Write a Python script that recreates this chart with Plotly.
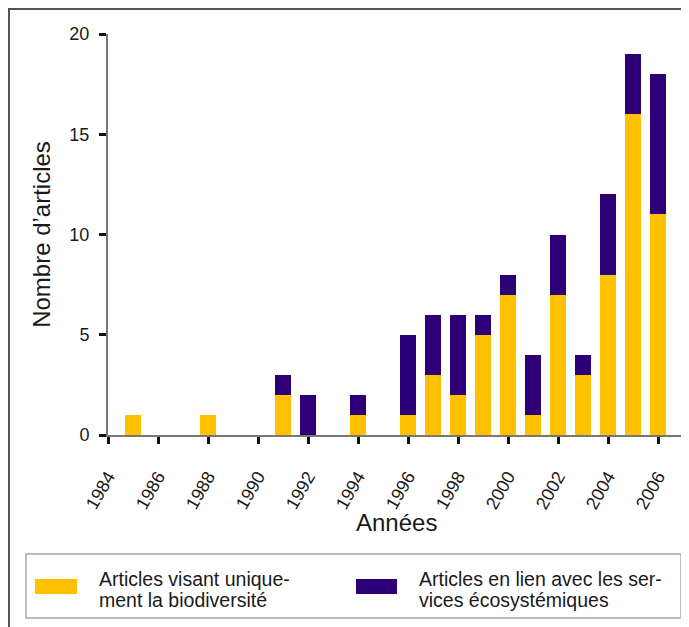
import plotly.graph_objects as go

years = [1985, 1988, 1991, 1992, 1994, 1996, 1997, 1998, 1999, 2000, 2001, 2002, 2003, 2004, 2005, 2006]
biodiv = [1, 1, 2, 0, 1, 1, 3, 2, 5, 7, 1, 7, 3, 8, 16, 11]
services = [0, 0, 1, 2, 1, 4, 3, 4, 1, 1, 3, 3, 1, 4, 3, 7]
tick_years = list(range(1984, 2007, 2))
series_lines = [["Articles visant unique-", "ment la biodiversité"],
                ["Articles en lien avec les ser-", "vices écosystémiques"]]
colors = ["#FFC000", "#2E0078"]
x_title = "Années"
y_title = "Nombre d’articles"

# page body has an 8px margin: figure coordinates = screen - 8
W, H = 680, 619
L, R, T, B = 100, 676, 26, 427

def px(x):
    return (x - L) / (R - L)

def py(y):
    return (B - y) / (B - T)

fig = go.Figure()
for vals, col, lines in zip([biodiv, services], colors, series_lines):
    fig.add_trace(go.Bar(x=years, y=vals, marker=dict(color=col, line=dict(width=0)),
                         width=0.64, name=" ".join(lines), showlegend=False))

font = "Liberation Sans, Arial, sans-serif"
fig.update_layout(
    barmode="stack",
    width=W, height=H,
    margin=dict(l=L, r=W - R, t=T, b=H - B),
    plot_bgcolor="white", paper_bgcolor="white",
    font=dict(family=font, color="#1a1a1a", size=16),
    xaxis=dict(range=[1984, 2007.04], tickmode="array", tickvals=tick_years,
               ticktext=[str(y) for y in tick_years], tickangle=-60,
               ticks="outside", ticklen=7, tickwidth=2.5, tickcolor="#111",
               ticklabelstandoff=15,
               showline=True, linecolor="#777", linewidth=2, showgrid=False, zeroline=False,
               tickfont=dict(size=18)),
    yaxis=dict(range=[0, 20], tickvals=[0, 5, 10, 15, 20],
               ticks="outside", ticklen=7, tickwidth=2.5, tickcolor="#111",
               ticklabelstandoff=6,
               showline=True, linecolor="#777", linewidth=2, showgrid=False, zeroline=False,
               tickfont=dict(size=18),
               title=dict(text=y_title, font=dict(size=24), standoff=12)),
    showlegend=False,
)

shapes = []
# outer frame (figure border)
shapes.append(dict(type="rect", xref="paper", yref="paper",
                   x0=px(1), x1=px(679), y0=py(640), y1=py(1),
                   line=dict(color="#555", width=2), fillcolor="rgba(0,0,0,0)", layer="below"))
# legend box
shapes.append(dict(type="rect", xref="paper", yref="paper",
                   x0=px(18), x1=px(673), y0=py(610), y1=py(546),
                   line=dict(color="#aaa", width=1.5), fillcolor="white"))
swatches = [(27, 69), (348, 389)]
text_x = [89, 409]
line_y = [571, 592]
annotations = [dict(xref="paper", yref="paper", x=px(388), y=py(514),
                    xanchor="center", yanchor="middle", showarrow=False,
                    text=x_title, font=dict(size=24, family=font, color="#1a1a1a"))]
for i in range(2):
    shapes.append(dict(type="rect", xref="paper", yref="paper",
                       x0=px(swatches[i][0]), x1=px(swatches[i][1]), y0=py(586), y1=py(571),
                       line=dict(width=0), fillcolor=colors[i]))
    for j in range(2):
        annotations.append(dict(xref="paper", yref="paper", x=px(text_x[i]), y=py(line_y[j]),
                                xanchor="left", yanchor="middle", align="left", showarrow=False,
                                text=series_lines[i][j],
                                font=dict(size=19.5, family=font, color="#1a1a1a")))
fig.update_layout(shapes=shapes, annotations=annotations)

fig.write_html("out.html")
